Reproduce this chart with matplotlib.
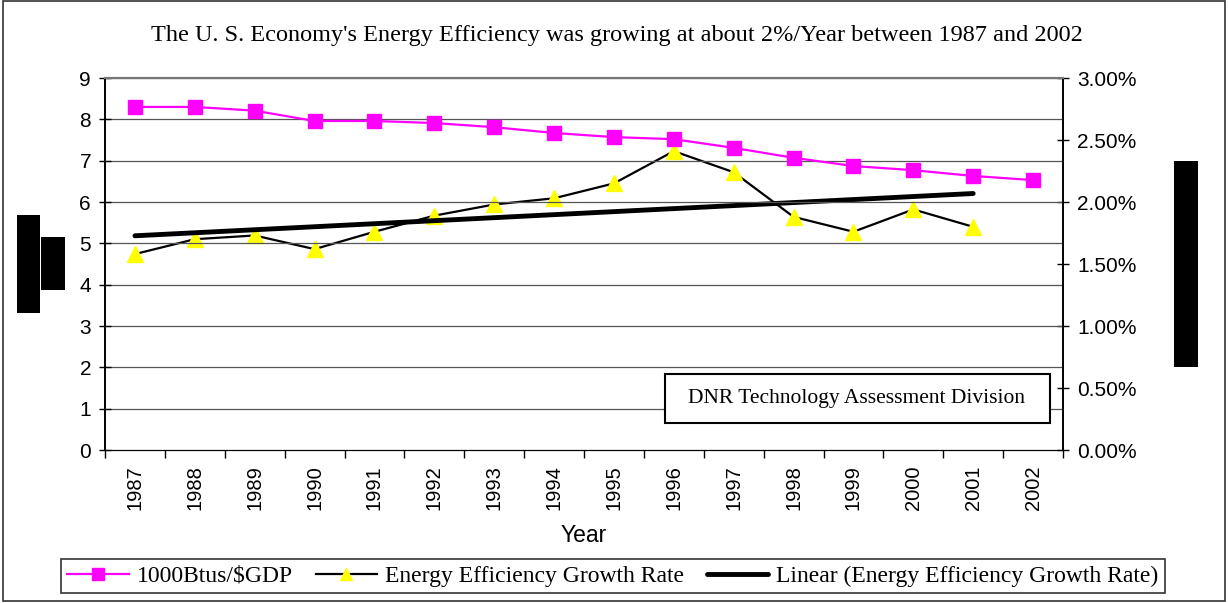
import matplotlib
matplotlib.use("Agg")
import matplotlib.pyplot as plt
import numpy as np
from matplotlib.patches import Rectangle
from matplotlib.ticker import PercentFormatter, FixedLocator

years = [str(y) for y in range(1987, 2003)]
btus_per_gdp = [8.30, 8.30, 8.21, 7.96, 7.96, 7.91, 7.81, 7.67, 7.57, 7.52, 7.31, 7.07, 6.87, 6.77, 6.63, 6.53]
growth_years = years[:15]
growth_rate = [1.58, 1.70, 1.73, 1.62, 1.76, 1.89, 1.98, 2.03, 2.15, 2.41, 2.24, 1.88, 1.76, 1.94, 1.80]
left_ticks = list(range(0, 10))
right_ticks = [0.0, 0.5, 1.0, 1.5, 2.0, 2.5, 3.0]

title = "The U. S. Economy's Energy Efficiency was growing at about 2%/Year between 1987 and 2002"
serif = "Liberation Serif"
sans = "Liberation Sans"

W, H = 1228, 603
fig = plt.figure(figsize=(W / 100, H / 100), dpi=100)

def fx(px):
    return px / W

def fy(py):
    return 1 - py / H

ax = fig.add_axes([fx(105), fy(450), fx(1063) - fx(105), fy(78) - fy(450)])
ax2 = ax.twinx()

x = np.arange(len(years))
xg = np.arange(len(growth_years))

for v in left_ticks[1:]:
    ax.axhline(v, color="#555555", lw=0.9, zorder=1)

ax.plot(x, btus_per_gdp, color="#FF00FF", lw=1.6, marker="s", ms=10,
        mfc="#FF00FF", mec="#FF00FF", zorder=4, label="1000Btus/$GDP")

coef = np.polyfit(xg, growth_rate, 1)
trend = np.polyval(coef, xg[[0, -1]])
ax2.plot(xg, growth_rate, color="black", lw=1.6, marker="^", ms=11,
         mfc="#FFFF00", mec="#FFFF00", zorder=3, label="Energy Efficiency Growth Rate")
ax2.plot(xg[[0, -1]], trend, color="black", lw=3.5, zorder=4,
         label="Linear (Energy Efficiency Growth Rate)", solid_capstyle="round")

ax.set_xlim(-0.5, len(years) - 0.5)
ax.set_ylim(0, 9)
ax2.set_ylim(0, 3)

ax.set_yticks(left_ticks)
ax2.set_yticks(right_ticks)
ax2.yaxis.set_major_formatter(PercentFormatter(100, decimals=2))

ax.set_xticks(x)
ax.set_xticklabels(years, rotation=90, fontsize=14.5, family=sans)
ax.xaxis.set_minor_locator(FixedLocator(np.arange(-0.5, len(years), 1.0)))
ax.tick_params(axis="x", which="major", length=0, pad=11)
ax.tick_params(axis="x", which="minor", length=6, width=1, direction="out", color="black")
ax.tick_params(axis="y", length=8, width=1, direction="inout", labelsize=15, pad=6)
ax2.tick_params(axis="y", length=8, width=1, direction="inout", labelsize=15, pad=6)
for lab in ax.get_yticklabels() + ax2.get_yticklabels():
    lab.set_family(sans)

ax.set_xlabel("Year", fontsize=16.5, family=sans, labelpad=10)

for a in (ax, ax2):
    a.spines["top"].set_color("#777777")
    a.spines["top"].set_linewidth(1.5)
    a.spines["left"].set_color("black")
    a.spines["right"].set_color("black")
    a.spines["bottom"].set_color("black")
    a.spines["left"].set_linewidth(1.2)
    a.spines["right"].set_linewidth(1.2)
ax.patch.set_visible(False)
ax.set_zorder(ax2.get_zorder() + 1)
ax2.patch.set_facecolor("white")

fig.text(fx(617), fy(35), title, ha="center", va="center", fontsize=17.5, family=serif)

fig.patches.append(Rectangle((fx(665), fy(423)), fx(1050) - fx(665), fy(374) - fy(423),
                             transform=fig.transFigure, facecolor="white", edgecolor="black",
                             lw=1.5, zorder=10))
fig.text(fx(856), fy(399), "DNR Technology Assessment Division", ha="center", va="center",
         fontsize=15.5, family=serif, zorder=11)

h1, l1 = ax.get_legend_handles_labels()
h2, l2 = ax2.get_legend_handles_labels()
leg = fig.legend(h1 + h2, l1 + l2, loc="center", bbox_to_anchor=(fx(613), fy(576)), ncol=3,
                 frameon=True, fancybox=False, edgecolor="black", handlelength=2.6,
                 handletextpad=0.35, columnspacing=0.95, borderpad=0.25,
                 prop={"family": serif, "size": 17}, markerscale=0.8)
leg.get_frame().set_linewidth(1.2)

fig.patches.append(Rectangle((fx(3), fy(601)), fx(1225) - fx(3), fy(1) - fy(601),
                             transform=fig.transFigure, facecolor="none", edgecolor="#333333", lw=1.2))

for (x0, y0, x1, y1) in [(17, 215, 40, 313), (41, 237, 65, 290), (1174, 161, 1198, 367)]:
    fig.patches.append(Rectangle((fx(x0), fy(y1)), fx(x1) - fx(x0), fy(y0) - fy(y1),
                                 transform=fig.transFigure, facecolor="black", edgecolor="none", zorder=12))

fig.savefig("out.png", dpi=100)
